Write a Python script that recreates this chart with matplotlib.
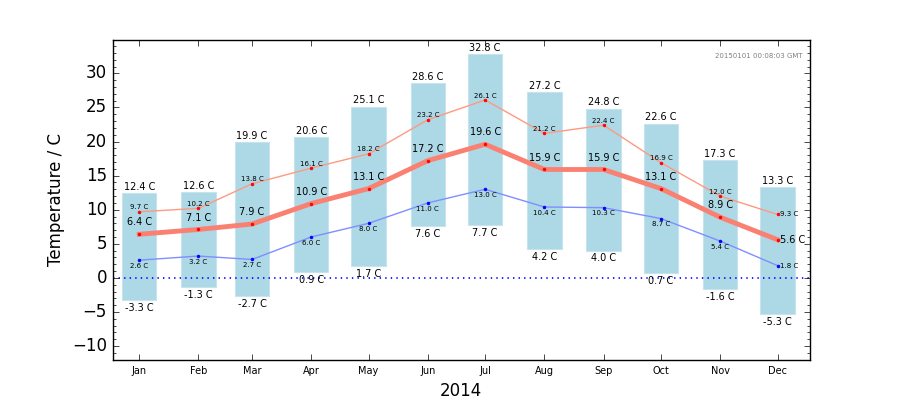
import datetime as dt
import matplotlib
matplotlib.use("Agg")
import matplotlib.pyplot as plt
import matplotlib.dates as mdates
from matplotlib.ticker import MultipleLocator, AutoMinorLocator

# ================= data =================
months = ["Jan", "Feb", "Mar", "Apr", "May", "Jun", "Jul", "Aug", "Sep", "Oct", "Nov", "Dec"]
t_max = [12.4, 12.6, 19.9, 20.6, 25.1, 28.6, 32.8, 27.2, 24.8, 22.6, 17.3, 13.3]
t_min = [-3.3, -1.3, -2.7, 0.9, 1.7, 7.6, 7.7, 4.2, 4.0, 0.7, -1.6, -5.3]
t_mean = [6.4, 7.1, 7.9, 10.9, 13.1, 17.2, 19.6, 15.9, 15.9, 13.1, 8.9, 5.6]
t_mean_max = [9.7, 10.2, 13.8, 16.1, 18.2, 23.2, 26.1, 21.2, 22.4, 16.9, 12.0, 9.3]
t_mean_min = [2.6, 3.2, 2.7, 6.0, 8.0, 11.0, 13.0, 10.4, 10.3, 8.7, 5.4, 1.8]
year = 2014
stamp = "20150101 00:08:03 GMT"

dates = [dt.datetime(year, m, 15) for m in range(1, 13)]
x = mdates.date2num(dates)

plt.style.use("classic")
fig = plt.figure(figsize=(9, 4), dpi=100, facecolor="white")
ax = fig.add_subplot(111)

# range bars (min..max)
heights = [hi - lo for hi, lo in zip(t_max, t_min)]
ax.bar(x, heights, bottom=t_min, width=18, align="center",
       color="lightblue", edgecolor="#c4e4ee", linewidth=0.8, zorder=1)

ax.axhline(0, color="blue", linestyle=":", linewidth=1.2, zorder=2)

ax.plot(x, t_mean_max, "-", color="#ff9980", lw=1, zorder=3)
ax.plot(x, t_mean_max, ".", color="red", ms=4, mec="red", zorder=4)
ax.plot(x, t_mean, "-", color="salmon", lw=3.5, zorder=3)
ax.plot(x, t_mean, ".", color="red", ms=4, mec="red", zorder=4)
ax.plot(x, t_mean_min, "-", color="#7f8fff", lw=1, zorder=3)
ax.plot(x, t_mean_min, ".", color="blue", ms=4, mec="blue", zorder=4)

# labels
last = len(x) - 1
for i, xi in enumerate(x):
    ax.annotate(f"{t_max[i]:.1f} C", (xi, t_max[i]), xytext=(0, 1), textcoords="offset points",
                ha="center", va="bottom", fontsize=7)
    ax.annotate(f"{t_min[i]:.1f} C", (xi, t_min[i]), xytext=(0, -2), textcoords="offset points",
                ha="center", va="top", fontsize=7)
    if i == last:
        ax.annotate(f"{t_mean[i]:.1f} C", (xi, t_mean[i]), xytext=(2, 0), textcoords="offset points",
                    ha="left", va="center", fontsize=7)
        ax.annotate(f"{t_mean_max[i]:.1f} C", (xi, t_mean_max[i]), xytext=(2, 0), textcoords="offset points",
                    ha="left", va="center", fontsize=5)
        ax.annotate(f"{t_mean_min[i]:.1f} C", (xi, t_mean_min[i]), xytext=(2, 0), textcoords="offset points",
                    ha="left", va="center", fontsize=5)
    else:
        ax.annotate(f"{t_mean[i]:.1f} C", (xi, t_mean[i]), xytext=(0, 5), textcoords="offset points",
                    ha="center", va="bottom", fontsize=7)
        ax.annotate(f"{t_mean_max[i]:.1f} C", (xi, t_mean_max[i]), xytext=(0, 1), textcoords="offset points",
                    ha="center", va="bottom", fontsize=5)
        ax.annotate(f"{t_mean_min[i]:.1f} C", (xi, t_mean_min[i]), xytext=(0, -2), textcoords="offset points",
                    ha="center", va="top", fontsize=5)

ax.text(0.99, 0.96, stamp, transform=ax.transAxes, ha="right", va="top",
        fontsize=5, color="gray")

ax.set_xlim(mdates.date2num(dt.datetime(year, 1, 1)), mdates.date2num(dt.datetime(year + 1, 1, 1)))
ax.set_ylim(-12.05, 34.9)
ax.set_xticks(x)
ax.set_xticklabels(months, fontsize=7)
ax.yaxis.set_major_locator(MultipleLocator(5))
ax.yaxis.set_minor_locator(AutoMinorLocator(5))
ax.tick_params(axis="y", labelsize=12)
ax.set_xlabel(str(year), fontsize=12)
ax.set_ylabel("Temperature / C", fontsize=12)

fig.subplots_adjust(left=0.125, right=0.9, bottom=0.1, top=0.9)
fig.savefig("out.png", dpi=100, facecolor="white")
